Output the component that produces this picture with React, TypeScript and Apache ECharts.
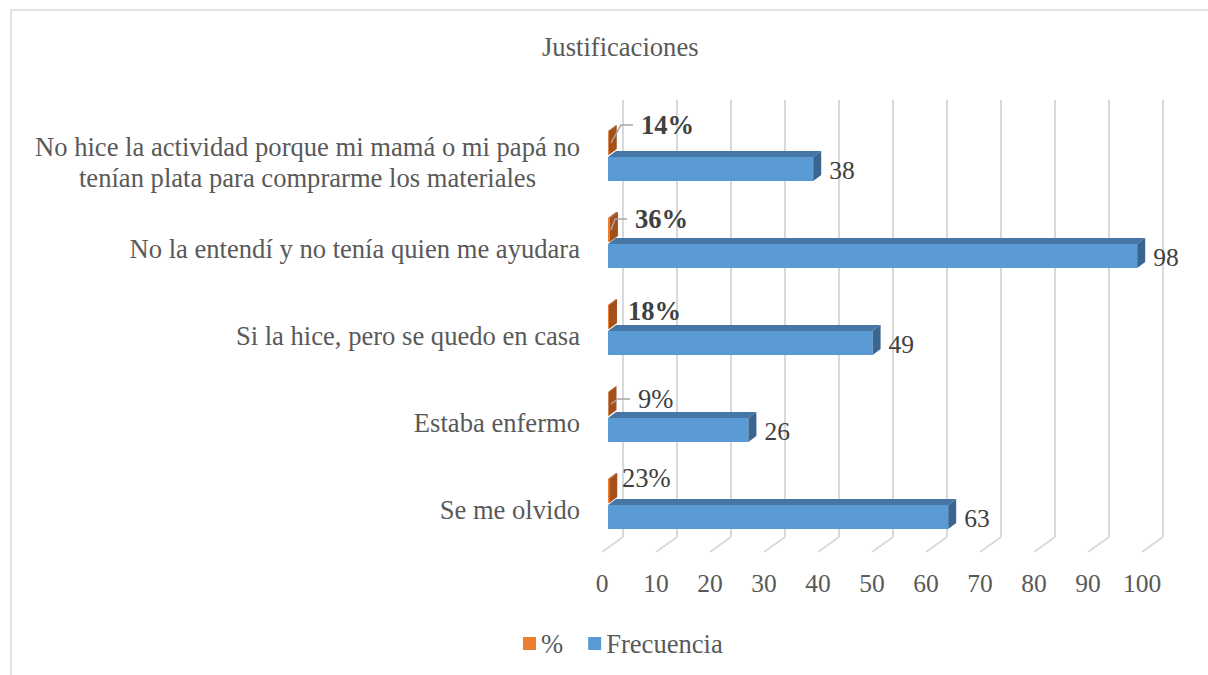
import React, { useEffect, useRef } from "react";
import * as echarts from "echarts";

const titleText = "Justificaciones";
const categories = [
  "No hice la actividad porque mi mamá o mi papá no\ntenían plata para comprarme los materiales",
  "No la entendí y no tenía quien me ayudara",
  "Si la hice, pero se quedo en casa",
  "Estaba enfermo",
  "Se me olvido",
];
const frecuencia = [38, 98, 49, 26, 63];
const porcentaje = [14, 36, 18, 9, 23];
const xTicks = [0, 10, 20, 30, 40, 50, 60, 70, 80, 90, 100];
const seriesNames = ["%", "Frecuencia"];

// label styling (not data)
const pctBold = [true, true, true, false, false];
const pctLabelDx = [33, 27, 20, 30, 14];
const pctLabelDy = [-18, -11, -6, -5, -13];
const pctLeader = [true, true, false, true, false];

const FONT = "'Liberation Serif', 'Times New Roman', serif";
const GRAY = "#595959";
const DARK = "#404040";
const GRID_C = "#D9D9D9";
const DX = 8;
const DY = 6;
const TXT = 26.6;

function makeBarRenderer(kind: "pct" | "freq") {
  return (params: any, api: any) => {
    const i = params.dataIndex;
    const val = api.value(0);
    const idx = api.value(1);
    const start = api.coord([0, idx]);
    const end = api.coord([val, idx]);
    const band = api.size([0, 1])[1];
    const h = band * 0.276;
    const off = band * 0.15 * (kind === "pct" ? -1 : 1);
    const yc = start[1] + off;
    const y0 = yc - h / 2;
    const y1 = yc + h / 2;
    const x0 = start[0];
    const x1 = Math.max(end[0], x0 + 0.3);
    const front = kind === "pct" ? "#ED7D31" : "#5B9BD5";
    const top = kind === "pct" ? "#B85E22" : "#4676A6";
    const side = kind === "pct" ? "#A4501B" : "#3A6591";
    const children: any[] = [
      { type: "rect", shape: { x: x0, y: y0, width: x1 - x0, height: h }, style: { fill: front } },
      {
        type: "polygon",
        shape: { points: [[x0, y0], [x0 + DX, y0 - DY], [x1 + DX, y0 - DY], [x1, y0]] },
        style: { fill: top },
      },
      {
        type: "polygon",
        shape: { points: [[x1, y0], [x1 + DX, y0 - DY], [x1 + DX, y1 - DY], [x1, y1]] },
        style: { fill: side },
      },
    ];
    if (kind === "freq") {
      children.push({
        type: "text",
        x: x1 + DX + 8,
        y: yc + 1,
        style: {
          text: String(frecuencia[i]),
          fill: DARK,
          fontSize: 25.5,
          fontFamily: FONT,
          align: "left",
          verticalAlign: "middle",
        },
      });
    } else {
      const lx = x0 + pctLabelDx[i];
      const ly = yc + pctLabelDy[i];
      if (pctLeader[i]) {
        children.push({
          type: "polyline",
          shape: { points: [[x0 + 3, yc], [lx - 20, ly], [lx - 8, ly]] },
          style: { stroke: "#A6A6A6", fill: null, lineWidth: 1.5 },
        });
      }
      children.push({
        type: "text",
        x: lx,
        y: ly,
        style: {
          text: porcentaje[i] + "%",
          fill: DARK,
          fontSize: TXT,
          fontWeight: pctBold[i] ? "bold" : "normal",
          fontFamily: FONT,
          align: "left",
          verticalAlign: "middle",
        },
      });
    }
    return { type: "group", children };
  };
}

function gridRenderer(params: any, api: any) {
  const v = api.value(0);
  const band = api.size([0, 1])[1];
  const x = api.coord([v, 0])[0];
  const topY = api.coord([0, 0])[1] - band / 2 - 12.5;
  const bottom = api.coord([0, categories.length - 1])[1] + band / 2;
  const backY = bottom - 10.5;
  const frontY = bottom + 4.5;
  return {
    type: "group",
    children: [
      {
        type: "line",
        shape: { x1: x + 15, y1: topY, x2: x + 15, y2: backY },
        style: { stroke: GRID_C, lineWidth: 2 },
      },
      {
        type: "line",
        shape: { x1: x + 15, y1: backY, x2: x - 6, y2: frontY },
        style: { stroke: GRID_C, lineWidth: 2 },
      },
    ],
  };
}

export default function App() {
  const ref = useRef<HTMLDivElement>(null);
  useEffect(() => {
    if (!ref.current) return;
    const chart = echarts.init(ref.current, null, { renderer: "svg" });
    chart.setOption({
      animation: false,
      backgroundColor: "#FFFFFF",
      title: {
        text: titleText,
        left: 537,
        top: 28,
        textStyle: { fontSize: TXT, fontWeight: "normal", color: GRAY, fontFamily: FONT },
      },
      legend: {
        data: [
          { name: seriesNames[0], itemStyle: { color: "#ED7D31" } },
          { name: seriesNames[1], itemStyle: { color: "#5B9BD5" } },
        ],
        left: 518,
        top: 625,
        icon: "rect",
        itemWidth: 13,
        itemHeight: 13,
        itemGap: 25,
        textStyle: { fontSize: TXT, color: GRAY, fontFamily: FONT },
      },
      graphic: [
        {
          type: "rect",
          shape: { x: 11, y: 10, width: 1220, height: 700 },
          style: { fill: "none", stroke: GRID_C, lineWidth: 1.5 },
          silent: true,
          z: -10,
        },
      ],
      grid: { left: 608, width: 540, top: 112.5, height: 435, containLabel: false },
      xAxis: {
        type: "value",
        min: 0,
        max: 100,
        interval: 10,
        axisLine: { show: false },
        axisTick: { show: false },
        splitLine: { show: false },
        axisLabel: {
          margin: 23,
          fontSize: 25.5,
          color: GRAY,
          fontFamily: FONT,
          padding: [0, 12, 0, 0],
          formatter: (v: number) => String(v),
        },
      },
      yAxis: {
        type: "category",
        inverse: true,
        data: categories,
        axisLine: { show: false },
        axisTick: { show: false },
        splitLine: { show: false },
        axisLabel: {
          margin: 28,
          fontSize: TXT,
          lineHeight: 31,
          color: GRAY,
          fontFamily: FONT,
          padding: [12, 0, 0, 0],
          formatter: (v: string) =>
            v.indexOf("\n") >= 0
              ? v
                  .split("\n")
                  .map((l) => "{c|" + l + "}")
                  .join("\n")
              : v,
          rich: {
            c: { align: "center", fontSize: TXT, lineHeight: 31, color: GRAY, fontFamily: FONT },
          },
        },
      },
      series: [
        {
          type: "custom",
          name: "grid",
          silent: true,
          z: 1,
          renderItem: gridRenderer,
          data: xTicks.map((v) => [v, 0]),
        },
        {
          type: "custom",
          name: seriesNames[0],
          z: 3,
          itemStyle: { color: "#ED7D31" },
          renderItem: makeBarRenderer("pct"),
          data: porcentaje.map((p, i) => [p / 100, i]),
        },
        {
          type: "custom",
          name: seriesNames[1],
          z: 4,
          itemStyle: { color: "#5B9BD5" },
          renderItem: makeBarRenderer("freq"),
          data: frecuencia.map((f, i) => [f, i]),
        },
      ],
    });
    return () => chart.dispose();
  }, []);
  return (
    <div
      ref={ref}
      style={{ position: "fixed", left: 0, top: 0, width: 1208, height: 675, background: "#fff" }}
    />
  );
}
